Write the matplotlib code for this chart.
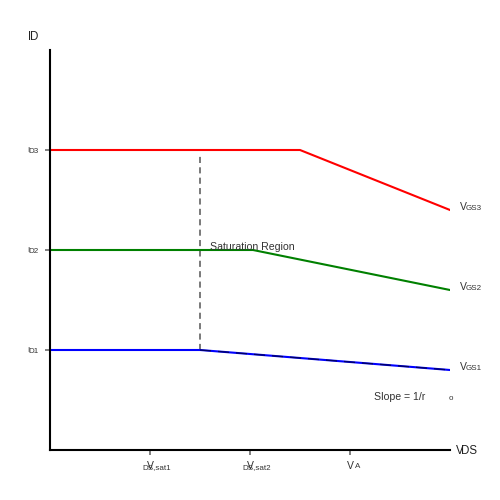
import matplotlib
matplotlib.use("Agg")
import matplotlib.pyplot as plt

plt.rcParams['font.family'] = ['Liberation Sans', 'DejaVu Sans']

curve_colors = ['blue', 'green', 'red']
current_levels = [1.0, 2.0, 3.0]
knee_x = [1.5, 2.03, 2.5]
end_y = [0.8, 1.6, 2.4]
x_end = 4.0
gate_names = ['GS1', 'GS2', 'GS3']
y_tick_vals = [1, 2, 3]
y_tick_subs = ['D1', 'D2', 'D3']
x_tick_vals = [1, 2, 3]
x_tick_subs = ['DS,sat1', 'DS,sat2', 'A']
dash_x = [1.495, 1.495]
dash_y = [1.0, 2.97]
slope_x = [1.5, 4.0]
slope_y = [1.0, 0.8]

fig = plt.figure(figsize=(5, 5), dpi=100)
ax = fig.add_axes([0.1, 0.1, 0.8, 0.8])
ax.set_xlim(0, 4)
ax.set_ylim(0, 4)
for s in ['top', 'right']:
    ax.spines[s].set_visible(False)
for s in ['left', 'bottom']:
    ax.spines[s].set_linewidth(1.5)
    ax.spines[s].set_zorder(5)

ax.set_xticks(x_tick_vals)
ax.set_yticks(y_tick_vals)
ax.set_xticklabels([])
ax.set_yticklabels([])
ax.tick_params(length=3.6, width=1.4, color='#808080')

for c, lvl, kx, ey in zip(curve_colors, current_levels, knee_x, end_y):
    ax.plot([0, kx, x_end], [lvl, lvl, ey], color=c, lw=1.5, zorder=3)

ax.plot(dash_x, dash_y, color='#555555', lw=1.1, ls=(0, (4, 2.8)), zorder=2)
ax.plot(slope_x, slope_y, color='black', lw=1, ls=(0, (8, 5)), alpha=0.6, zorder=4)

def lab(x, y, s, size, ha='left', color='#333333'):
    ax.text(x, y, s, fontsize=size, ha=ha, va='center', color=color, clip_on=False)

big = 7.5
small = 5.8

for x, sub in zip(x_tick_vals, x_tick_subs):
    if sub == 'A':
        lab(x + 0.005, -0.16, 'V', big, 'center')
        lab(x + 0.045, -0.17, sub, small)
    else:
        lab(x, -0.16, 'V', big, 'center')
        lab(x + 0.065, -0.175, sub, small, 'center')

for y, sub in zip(y_tick_vals, y_tick_subs):
    lab(-0.225, y, 'I', small, 'left')
    lab(-0.215, y - 0.015, sub, small, 'left')

for ey, name in zip(end_y, gate_names):
    lab(4.1, ey + 0.03, 'V', big)
    lab(4.16, ey + 0.02, name, small)

lab(-0.22, 4.13, 'I', 8.3, color='#222222')
lab(-0.2, 4.13, 'D', 8.3, color='#222222')
lab(4.06, -0.01, 'V', 8.3, color='#222222')
lab(4.105, -0.01, 'DS', 8.3, color='#222222')
lab(1.6, 2.03, 'Saturation Region', 7.55)
lab(3.24, 0.535, 'Slope = 1/r', 7.55)
lab(3.985, 0.52, 'o', small)

fig.savefig('out.png', dpi=100)
